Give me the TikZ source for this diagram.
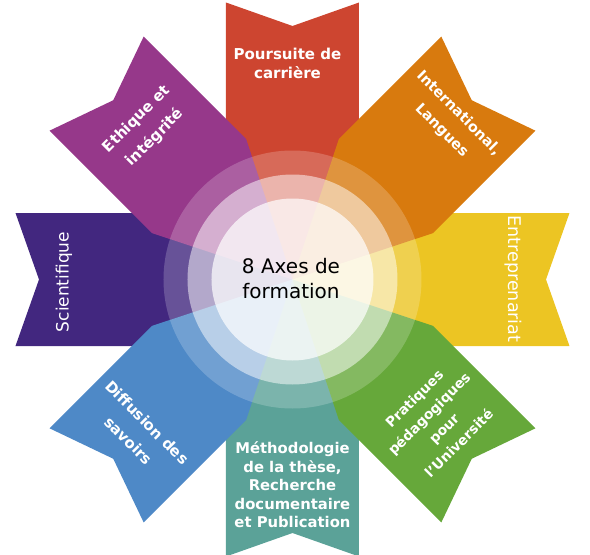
\documentclass[tikz,border=0pt]{standalone}
\usepackage{fontspec}
\setmainfont{DejaVu Sans}
\usetikzlibrary{positioning}

\definecolor{axrot}{HTML}{CD4530}
\definecolor{axorange}{HTML}{D87A0E}
\definecolor{axgelb}{HTML}{ECC523}
\definecolor{axgruen}{HTML}{66A83A}
\definecolor{axpetrol}{HTML}{5BA298}
\definecolor{axblau}{HTML}{4E89C7}
\definecolor{axindigo}{HTML}{42277F}
\definecolor{axviolett}{HTML}{96388A}

\begin{document}
\begin{tikzpicture}[x=1pt,y=1pt,
    armtext/.style={text=white,align=center,inner sep=0pt}]
		% Koordinaten
		\coordinate (m) at (0,0);
		\useasboundingbox (-292.5,-275.5) rectangle (297.5,279.5);

		% Arme (erst senkrecht/waagerecht, dann schraeg)
		\foreach \w/\farbe in {90/axrot,0/axgelb,-90/axpetrol,180/axindigo,45/axorange,-45/axgruen,-135/axblau,135/axviolett}
			\fill[\farbe,rotate=\w] (0,0) -- (132,66.5) -- (277,66.5) -- (253.5,0) -- (277,-66.5) -- (132,-66.5) -- cycle;

		% Kreise
		\fill[white,fill opacity=0.2] (m) circle (129pt);
		\fill[white,fill opacity=0.5] (m) circle (105pt);
		\fill[white,fill opacity=0.7] (m) circle (81pt);

		% Mitte
		\node[align=center,inner sep=0pt,font=\fontsize{20}{25}\selectfont] (mitte) at (-1.5,0.5) {8 Axes de\\formation};

		% Beschriftung
		\node[armtext,font=\bfseries\fontsize{15}{19}\selectfont] (karriere) at (-5,216.5) {Poursuite de\\carrière};
		\node[armtext,rotate=-45,font=\bfseries\fontsize{14.5}{24}\selectfont] (international) at (157.5,157.5) {International,\\Langues};
		\node[armtext,rotate=-90,font=\fontsize{17.5}{21}\selectfont] (entreprenariat) at (220.5,0.5) {Entreprenariat};
		\node[armtext,rotate=45,font=\bfseries\fontsize{13.8}{21}\selectfont] (pratiques) at (144,-141.5) {Pratiques\\pédagogiques\\pour\\l’Université};
		\node[armtext,font=\bfseries\fontsize{14.8}{18.5}\selectfont] (methodologie) at (0,-205.5) {Méthodologie\\de la thèse,\\Recherche\\documentaire\\et Publication};
		\node[armtext,rotate=-45,font=\bfseries\fontsize{15}{26}\selectfont] (diffusion) at (-154.5,-152) {Diffusion des\\savoirs};
		\node[armtext,rotate=90,font=\fontsize{17}{21}\selectfont] (scientifique) at (-228.5,-2.5) {Scientifique};
		\node[armtext,rotate=45,font=\bfseries\fontsize{15}{26}\selectfont] (ethique) at (-146.5,151) {Ethique et\\intégrité};
	\end{tikzpicture}
\end{document}
